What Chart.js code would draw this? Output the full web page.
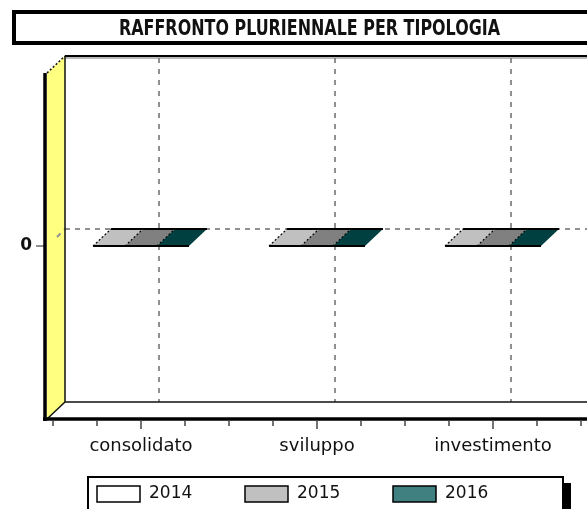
<!DOCTYPE html>
<html>
<head>
<meta charset="utf-8">
<script src="https://cdn.jsdelivr.net/npm/chart.js@4/dist/chart.umd.min.js"></script>
<style>
  html, body { margin: 0; padding: 0; background: #fff; }
  canvas { display: block; }
</style>
</head>
<body>
<canvas id="chart" width="587" height="509"></canvas>
<script>
const title = "RAFFRONTO PLURIENNALE PER TIPOLOGIA"
const categories = ["consolidato", "sviluppo", "investimento"]
const years = ["2014", "2015", "2016"]
const values2014 = [0, 0, 0]
const values2015 = [0, 0, 0]
const values2016 = [0, 0, 0]
const yTicks = [0]

// legend colour and the shaded top face of each series
const fillColors = ["#ffffff", "#c0c0c0", "#408080"]
const topColors = ["#c0c0c0", "#808080", "#004040"]

const DX = 18 // depth of the 3d box
const DY = 17

const box3d = {
  id: "box3d",
  beforeDraw(chart) {
    const { ctx, width, height } = chart
    ctx.save()
    ctx.fillStyle = "#fff"
    ctx.fillRect(0, 0, width, height)
    ctx.restore()
  },
  beforeDatasetsDraw(chart) {
    const { ctx, chartArea: a, scales, width } = chart
    const xs = scales.x, ys = scales.y
    const wf = a.left - 6 // front edge of the side wall
    const wb = wf + DX    // back edge
    ctx.save()

    // yellow side wall
    ctx.fillStyle = "#ffff80"
    ctx.beginPath()
    ctx.moveTo(wf, a.top)
    ctx.lineTo(wb, a.top - DY)
    ctx.lineTo(wb, a.bottom - DY)
    ctx.lineTo(wf, a.bottom)
    ctx.closePath()
    ctx.fill()

    // grid on the back wall
    ctx.strokeStyle = "#909090"
    ctx.lineWidth = 2
    ctx.setLineDash([5, 6])
    xs.ticks.forEach((t, i) => {
      const px = xs.getPixelForTick(i) + DX
      ctx.beginPath()
      ctx.moveTo(px, a.top - DY + 2)
      ctx.lineTo(px, a.bottom - DY)
      ctx.stroke()
    })
    ctx.setLineDash([5, 5])
    yTicks.forEach(v => {
      const py = ys.getPixelForValue(v) - DY
      ctx.beginPath()
      ctx.moveTo(wb, py)
      ctx.lineTo(width, py)
      ctx.stroke()
      ctx.beginPath()
      ctx.moveTo(wb - 8, py + 8)
      ctx.lineTo(wb, py)
      ctx.stroke()
      // tick on the front
      ctx.setLineDash([])
      ctx.beginPath()
      ctx.moveTo(wf - 11, py + DY)
      ctx.lineTo(wf - 2, py + DY)
      ctx.stroke()
      ctx.setLineDash([5, 5])
    })
    ctx.setLineDash([])

    // box edges
    ctx.strokeStyle = "#000"
    ctx.lineWidth = 2
    ctx.beginPath()
    ctx.moveTo(wb, a.top - DY)
    ctx.lineTo(width, a.top - DY)
    ctx.stroke()
    ctx.strokeStyle = "#777"
    ctx.lineWidth = 1
    ctx.beginPath()
    ctx.moveTo(wb, a.top - DY + 2)
    ctx.lineTo(width, a.top - DY + 2)
    ctx.stroke()
    ctx.strokeStyle = "#111"
    ctx.lineWidth = 1.5
    ctx.beginPath()
    ctx.moveTo(wb, a.top - DY)
    ctx.lineTo(wb, a.bottom - DY)
    ctx.lineTo(width, a.bottom - DY)
    ctx.stroke()
    ctx.beginPath()
    ctx.moveTo(wf, a.bottom)
    ctx.lineTo(wb, a.bottom - DY)
    ctx.stroke()
    ctx.setLineDash([2, 2])
    ctx.beginPath()
    ctx.moveTo(wf, a.top)
    ctx.lineTo(wb, a.top - DY)
    ctx.stroke()
    ctx.setLineDash([])

    ctx.lineWidth = 3.5
    ctx.strokeStyle = "#000"
    ctx.beginPath()
    ctx.moveTo(wf - 2, a.top)
    ctx.lineTo(wf - 2, a.bottom + 2)
    ctx.stroke()
    ctx.beginPath()
    ctx.moveTo(wf - 4, a.bottom)
    ctx.lineTo(width, a.bottom)
    ctx.stroke()

    // small ticks under the floor
    ctx.strokeStyle = "#444"
    ctx.lineWidth = 1.5
    for (let k = 0; k <= categories.length * 4; k++) {
      const px = xs.getPixelForValue(k / 4 - 0.5)
      const len = k % 4 === 2 ? 8 : 5
      ctx.beginPath()
      ctx.moveTo(px, a.bottom + 2)
      ctx.lineTo(px, a.bottom + 2 + len)
      ctx.stroke()
    }
    ctx.restore()
  },
  afterDatasetsDraw(chart) {
    const { ctx } = chart
    ctx.save()
    chart.data.datasets.forEach((ds, i) => {
      chart.getDatasetMeta(i).data.forEach(bar => {
        const { x, y, width } = bar.getProps(["x", "y", "width"], true)
        const l = x - width / 2, r = x + width / 2
        ctx.fillStyle = topColors[i]
        ctx.beginPath()
        ctx.moveTo(l, y)
        ctx.lineTo(r, y)
        ctx.lineTo(r + DX, y - DY)
        ctx.lineTo(l + DX, y - DY)
        ctx.closePath()
        ctx.fill()
        ctx.strokeStyle = "#000"
        ctx.lineWidth = 1.2
        ctx.setLineDash([2, 2])
        ctx.beginPath()
        ctx.moveTo(l, y)
        ctx.lineTo(l + DX, y - DY)
        ctx.stroke()
        ctx.setLineDash([])
        ctx.lineWidth = 2
        ctx.beginPath()
        ctx.moveTo(l, y)
        ctx.lineTo(r, y)
        ctx.moveTo(l + DX, y - DY)
        ctx.lineTo(r + DX, y - DY)
        ctx.stroke()
      })
    })
    ctx.restore()
  },
  afterDraw(chart) {
    const { ctx } = chart
    ctx.save()

    // title box
    ctx.strokeStyle = "#000"
    ctx.lineWidth = 4
    ctx.strokeRect(14, 12, 600, 31)
    ctx.font = "bold 21px 'Liberation Sans Narrow', 'DejaVu Sans Condensed', sans-serif"
    ctx.fillStyle = "#111"
    ctx.textBaseline = "middle"
    const tw = ctx.measureText(title).width
    ctx.translate(119, 30)
    ctx.scale(381 / tw, 1)
    ctx.fillText(title, 0, 0)
    ctx.setTransform(1, 0, 0, 1, 0, 0)

    // legend
    ctx.fillStyle = "#000"
    ctx.fillRect(563, 483, 8, 40)
    ctx.lineWidth = 2
    ctx.strokeRect(88, 477, 475, 40)
    ctx.font = "17px 'DejaVu Sans', sans-serif"
    ctx.textBaseline = "middle"
    chart.data.datasets.forEach((ds, i) => {
      const bx = 97 + i * 148
      ctx.fillStyle = ds.backgroundColor
      ctx.fillRect(bx, 486, 43, 16)
      ctx.strokeStyle = "#000"
      ctx.lineWidth = 1.5
      ctx.strokeRect(bx, 486, 43, 16)
      ctx.fillStyle = "#111"
      ctx.fillText(ds.label, bx + 52, 494)
    })
    ctx.restore()
  },
}

const seriesValues = [values2014, values2015, values2016]

new Chart(document.getElementById("chart"), {
  type: "bar",
  data: {
    labels: categories,
    datasets: years.map((yr, i) => ({
      label: yr,
      data: seriesValues[i],
      backgroundColor: fillColors[i],
      borderWidth: 0,
      categoryPercentage: 0.545,
      barPercentage: 1,
    })),
  },
  options: {
    responsive: false,
    animation: false,
    devicePixelRatio: 1,
    layout: { padding: { left: 13, right: 6, top: 73, bottom: 50 } },
    plugins: {
      legend: { display: false },
      title: { display: false },
      tooltip: { enabled: false },
    },
    scales: {
      x: {
        grid: { display: false, drawTicks: false },
        border: { display: false },
        ticks: {
          padding: 17,
          color: "#111",
          font: { family: "DejaVu Sans", size: 18 },
          maxRotation: 0,
        },
        afterFit(scale) { scale.height = 40 },
      },
      y: {
        min: -1,
        max: 1,
        grid: { display: false, drawTicks: false },
        border: { display: false },
        afterBuildTicks(scale) { scale.ticks = yTicks.map(v => ({ value: v })) },
        ticks: {
          padding: 21,
          color: "#111",
          font: { family: "DejaVu Sans", size: 17, weight: "bold" },
        },
        afterFit(scale) { scale.width = 40 },
      },
    },
  },
  plugins: [box3d],
})
</script>
</body>
</html>
